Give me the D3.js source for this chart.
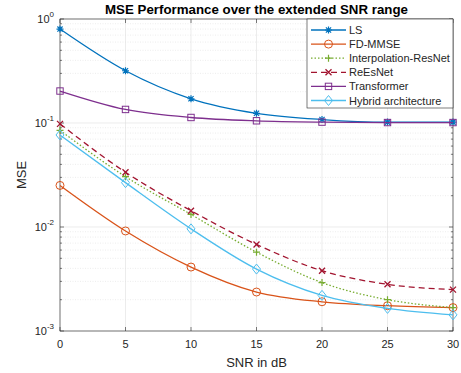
<!DOCTYPE html>
<html>
<head>
<meta charset="utf-8">
<script src="https://cdn.jsdelivr.net/npm/d3@7"></script>
<style>
  body { margin: 0; background: #fff; }
  text { font-family: "Liberation Sans", Arial, sans-serif; }
</style>
</head>
<body>
<div id="chart"></div>
<script>
var snr = [0, 5, 10, 15, 20, 25, 30];

var lsData = [0.80, 0.318, 0.171, 0.124, 0.108, 0.102, 0.102];
var fdmmseData = [0.0251, 0.00916, 0.00412, 0.00237, 0.00191, 0.00175, 0.00168];
var interpData = [0.085, 0.0305, 0.0132, 0.00573, 0.00292, 0.0020, 0.00168];
var reesnetData = [0.098, 0.0336, 0.01435, 0.0068, 0.0038, 0.00281, 0.0025];
var transformerData = [0.203, 0.135, 0.113, 0.105, 0.102, 0.101, 0.101];
var hybridData = [0.0767, 0.0267, 0.0096, 0.00394, 0.0022, 0.00165, 0.00143];

var xTicks = [0, 5, 10, 15, 20, 25, 30];
var yTickExps = [-3, -2, -1, 0];

var series = [
    {name: 'LS', values: lsData, color: '#0072BD', dash: null, marker: 'star'},
    {name: 'FD-MMSE', values: fdmmseData, color: '#D95319', dash: null, marker: 'circle'},
    {name: 'Interpolation-ResNet', values: interpData, color: '#77AC30', dash: '1.5,2', marker: 'plus'},
    {name: 'ReEsNet', values: reesnetData, color: '#A2142F', dash: '6,4', marker: 'x'},
    {name: 'Transformer', values: transformerData, color: '#7E2F8E', dash: null, marker: 'square'},
    {name: 'Hybrid architecture', values: hybridData, color: '#4DBEEE', dash: null, marker: 'diamond'}
];

var W = 461, H = 373;
var m = {t: 19, r: 8, b: 42, l: 60};
var w = W - m.l - m.r, h = H - m.t - m.b;

var svg = d3.select('#chart').append('svg')
    .attr('width', W).attr('height', H);

var g = svg.append('g').attr('transform', 'translate(' + m.l + ',' + m.t + ')');

var x = d3.scaleLinear().domain([0, 30]).range([0, w]);
var y = d3.scaleLog().domain([1e-3, 1]).range([h, 0]);

// minor grid (dotted)
var minor = [];
yTickExps.slice(0, 3).forEach(function(e) {
    for (var k = 2; k <= 9; k++) minor.push(k * Math.pow(10, e));
});
g.selectAll('.minor').data(minor).enter().append('line')
    .attr('x1', 0).attr('x2', w)
    .attr('y1', function(d) { return y(d); })
    .attr('y2', function(d) { return y(d); })
    .attr('stroke', '#e0e0e0').attr('stroke-width', 0.6)
    .attr('stroke-dasharray', '1,1.5');

// major grid
g.selectAll('.gx').data(xTicks).enter().append('line')
    .attr('x1', function(d) { return x(d); }).attr('x2', function(d) { return x(d); })
    .attr('y1', 0).attr('y2', h)
    .attr('stroke', '#dfdfdf').attr('stroke-width', 0.6);
g.selectAll('.gy').data(yTickExps).enter().append('line')
    .attr('x1', 0).attr('x2', w)
    .attr('y1', function(d) { return y(Math.pow(10, d)); })
    .attr('y2', function(d) { return y(Math.pow(10, d)); })
    .attr('stroke', '#dfdfdf').attr('stroke-width', 0.6);

// axes box
g.append('rect').attr('width', w).attr('height', h)
    .attr('fill', 'none').attr('stroke', '#262626').attr('stroke-width', 0.6);

// inner ticks
var tickColor = '#262626';
xTicks.forEach(function(t) {
    g.append('line').attr('x1', x(t)).attr('x2', x(t)).attr('y1', h).attr('y2', h - 4)
        .attr('stroke', tickColor).attr('stroke-width', 0.6);
    g.append('line').attr('x1', x(t)).attr('x2', x(t)).attr('y1', 0).attr('y2', 4)
        .attr('stroke', tickColor).attr('stroke-width', 0.6);
});
yTickExps.forEach(function(e) {
    var yy = y(Math.pow(10, e));
    g.append('line').attr('x1', 0).attr('x2', 4).attr('y1', yy).attr('y2', yy)
        .attr('stroke', tickColor).attr('stroke-width', 0.6);
    g.append('line').attr('x1', w).attr('x2', w - 4).attr('y1', yy).attr('y2', yy)
        .attr('stroke', tickColor).attr('stroke-width', 0.6);
});
minor.forEach(function(v) {
    var yy = y(v);
    g.append('line').attr('x1', 0).attr('x2', 2).attr('y1', yy).attr('y2', yy)
        .attr('stroke', tickColor).attr('stroke-width', 0.6);
    g.append('line').attr('x1', w).attr('x2', w - 2).attr('y1', yy).attr('y2', yy)
        .attr('stroke', tickColor).attr('stroke-width', 0.6);
});

// x tick labels
g.selectAll('.xl').data(xTicks).enter().append('text')
    .attr('x', function(d) { return x(d); }).attr('y', h + 17)
    .attr('text-anchor', 'middle').attr('font-size', 11).attr('fill', '#262626')
    .text(function(d) { return d; });

// y tick labels 10^e
yTickExps.forEach(function(e) {
    var yy = y(Math.pow(10, e));
    var t = g.append('text').attr('x', -6).attr('y', yy + 4)
        .attr('text-anchor', 'end').attr('font-size', 11).attr('fill', '#262626');
    t.append('tspan').text('10');
    t.append('tspan').attr('dy', -6).attr('font-size', 8).text(e);
});

// axis labels and title
svg.append('text').attr('x', m.l + w / 2).attr('y', 367)
    .attr('text-anchor', 'middle').attr('font-size', 13).attr('fill', '#262626')
    .text('SNR in dB');
svg.append('text').attr('transform', 'translate(26,' + (m.t + h / 2) + ') rotate(-90)')
    .attr('text-anchor', 'middle').attr('font-size', 13).attr('fill', '#262626')
    .text('MSE');
svg.append('text').attr('x', m.l + w / 2).attr('y', 14)
    .attr('text-anchor', 'middle').attr('font-size', 13.3).attr('font-weight', 'bold')
    .attr('fill', '#000').text('MSE Performance over the extended SNR range');

// markers
function drawMarker(sel, type, color, cx, cy) {
    var s = 3.5;
    if (type === 'circle') {
        sel.append('circle').attr('cx', cx).attr('cy', cy).attr('r', s + 0.5)
            .attr('fill', 'none').attr('stroke', color).attr('stroke-width', 1);
    } else if (type === 'square') {
        sel.append('rect').attr('x', cx - 3.2).attr('y', cy - 3.2).attr('width', 6.4).attr('height', 6.4)
            .attr('fill', 'none').attr('stroke', color).attr('stroke-width', 1);
    } else if (type === 'diamond') {
        sel.append('path').attr('d', 'M' + cx + ',' + (cy - 5) + 'L' + (cx + 4) + ',' + cy +
            'L' + cx + ',' + (cy + 5) + 'L' + (cx - 4) + ',' + cy + 'Z')
            .attr('fill', 'none').attr('stroke', color).attr('stroke-width', 1);
    } else if (type === 'plus') {
        sel.append('path').attr('d', 'M' + (cx - s) + ',' + cy + 'H' + (cx + s) + 'M' + cx + ',' + (cy - s) + 'V' + (cy + s))
            .attr('stroke', color).attr('stroke-width', 1.2);
    } else if (type === 'x') {
        sel.append('path').attr('d', 'M' + (cx - 3) + ',' + (cy - 3) + 'L' + (cx + 3) + ',' + (cy + 3) +
            'M' + (cx - 3) + ',' + (cy + 3) + 'L' + (cx + 3) + ',' + (cy - 3))
            .attr('stroke', color).attr('stroke-width', 1.3);
    } else if (type === 'star') {
        sel.append('path').attr('d', 'M' + (cx - s) + ',' + cy + 'H' + (cx + s) +
            'M' + cx + ',' + (cy - s) + 'V' + (cy + s) +
            'M' + (cx - 2.6) + ',' + (cy - 2.6) + 'L' + (cx + 2.6) + ',' + (cy + 2.6) +
            'M' + (cx - 2.6) + ',' + (cy + 2.6) + 'L' + (cx + 2.6) + ',' + (cy - 2.6))
            .attr('stroke', color).attr('stroke-width', 1.2);
    }
}

var line = d3.line()
    .x(function(d) { return x(d[0]); })
    .y(function(d) { return y(d[1]); })
    .curve(d3.curveMonotoneX);

var plot = g.append('g');
series.forEach(function(s) {
    var pts = snr.map(function(v, i) { return [v, s.values[i]]; });
    plot.append('path').datum(pts)
        .attr('d', line)
        .attr('fill', 'none').attr('stroke', s.color).attr('stroke-width', 1.3)
        .attr('stroke-dasharray', s.dash);
    pts.forEach(function(p) { drawMarker(plot, s.marker, s.color, x(p[0]), y(p[1])); });
});

// legend
var lg = g.append('g').attr('transform', 'translate(' + (307 - m.l) + ',0)');
var lgW = w - (307 - m.l), lgH = 89;
lg.append('rect').attr('width', lgW).attr('height', lgH)
    .attr('fill', '#fff').attr('stroke', '#262626').attr('stroke-width', 0.6);
series.forEach(function(s, i) {
    var yy = 11 + i * 14.1;
    lg.append('line').attr('x1', 4).attr('x2', 39).attr('y1', yy).attr('y2', yy)
        .attr('stroke', s.color).attr('stroke-width', 1.3).attr('stroke-dasharray', s.dash);
    drawMarker(lg, s.marker, s.color, 21.5, yy);
    lg.append('text').attr('x', 42).attr('y', yy + 4)
        .attr('font-size', 11).attr('fill', '#262626').text(s.name);
});
</script>
</body>
</html>
